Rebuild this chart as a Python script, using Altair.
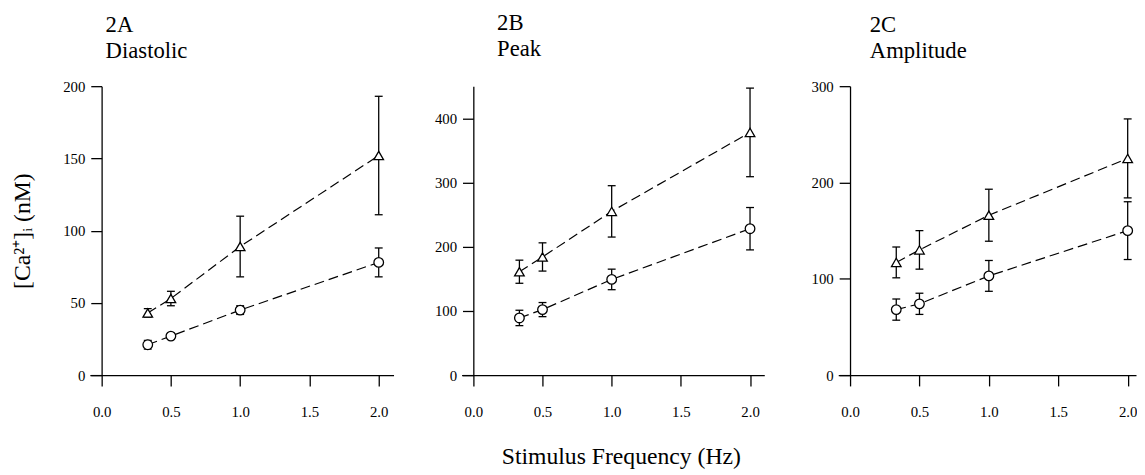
import altair as alt
import pandas as pd

freq = [0.333, 0.5, 1.0, 2.0]

# Panel 2A Diastolic
a_tri = [43, 53, 89, 152]
a_tri_err = [3, 5, 21, 41]
a_circ = [21, 27, 45, 78]
a_circ_err = [3, 1.5, 3, 10]

# Panel 2B Peak
b_tri = [161, 184, 255, 378]
b_tri_err = [18, 22, 40, 69]
b_circ = [89, 102, 149, 228]
b_circ_err = [12, 11, 16, 33]

# Panel 2C Amplitude
c_tri = [117, 130, 166, 225]
c_tri_err = [16, 20, 27, 41]
c_circ = [68, 74, 103, 150]
c_circ_err = [11, 11, 16, 30]

x_ticks = [0.0, 0.5, 1.0, 1.5, 2.0]
SERIF = "Liberation Serif"


def panel(code, name, tri, tri_err, circ, circ_err, ymax, yticks, xmax, width,
          ytitle=None, xtitle=None, title_dx=16, title_offset=18):
    rows = []
    for s, m, e in [("tri", tri, tri_err), ("circ", circ, circ_err)]:
        for f, v, er in zip(freq, m, e):
            rows.append(dict(f=f, v=v, lo=v - er, hi=v + er, s=s))
    df = pd.DataFrame(rows)
    xmin = -0.085
    yoff = -width * (0 - xmin) / (xmax - xmin)

    xaxis_kw = dict(values=x_ticks, format=".1f", labelPadding=19)
    if xtitle:
        xaxis_kw.update(title=xtitle, titleFont=SERIF, titleFontSize=24,
                        titleFontWeight="normal", titlePadding=26, titleColor="black",
                        titleX=width / 2 + 8, titleAlign="center")
    else:
        xaxis_kw.update(title=None)
    yaxis_kw = dict(values=yticks, offset=yoff, labelPadding=6)
    if ytitle:
        yaxis_kw.update(title=ytitle, titleFont=SERIF, titleFontSize=24,
                        titleFontWeight="normal", titlePadding=29, titleColor="black")
    else:
        yaxis_kw.update(title=None)

    xs = alt.Scale(domain=[xmin, xmax], nice=False, zero=False)
    ys = alt.Scale(domain=[0, ymax], nice=False, zero=False)

    def X():
        return alt.X("f:Q", scale=xs, axis=alt.Axis(**xaxis_kw))

    def Y(field):
        return alt.Y(f"{field}:Q", scale=ys, axis=alt.Axis(**yaxis_kw))

    base = alt.Chart(df)
    rule = base.mark_rule(color="black", strokeWidth=1.3).encode(
        x=X(), y=Y("lo"), y2="hi:Q")
    cap_lo = base.mark_tick(orient="horizontal", size=8, thickness=1.3,
                            color="black", opacity=1).encode(x=X(), y=Y("lo"))
    cap_hi = base.mark_tick(orient="horizontal", size=8, thickness=1.3,
                            color="black", opacity=1).encode(x=X(), y=Y("hi"))
    line = base.mark_line(color="black", strokeWidth=1.2, strokeDash=[10, 5]).encode(
        x=X(), y=Y("v"), detail="s:N")
    pts = base.mark_point(filled=True, fill="white", stroke="black", strokeWidth=1.3,
                          size=95, opacity=1).encode(
        x=X(), y=Y("v"),
        shape=alt.Shape("s:N", scale=alt.Scale(domain=["tri", "circ"],
                                               range=["triangle-up", "circle"]),
                        legend=None))
    return alt.layer(rule, cap_lo, cap_hi, line, pts).properties(
        width=width, height=293,
        title=alt.Title([code, name], anchor="start", frame="group", dx=title_dx,
                        font=SERIF, fontSize=23, fontWeight="normal", color="black",
                        lineHeight=26, offset=title_offset))


pa = panel("2A", "Diastolic", a_tri, a_tri_err, a_circ, a_circ_err,
           200, [0, 50, 100, 150, 200], 2.107, 308,
           ytitle="[Ca²⁺]ᵢ (nM)", title_dx=16, title_offset=17)
pb = panel("2B", "Peak", b_tri, b_tri_err, b_circ, b_circ_err,
           450, [0, 100, 200, 300, 400], 2.103, 307,
           xtitle="Stimulus Frequency (Hz)", title_dx=36, title_offset=26)
pc = panel("2C", "Amplitude", c_tri, c_tri_err, c_circ, c_circ_err,
           300, [0, 100, 200, 300], 2.06, 302, title_dx=32, title_offset=17)

chart = alt.hconcat(alt.hconcat(pa, pb, spacing=41), pc, spacing=47).configure_axis(
    labelFont=SERIF, labelFontSize=15, labelColor="black",
    domainColor="black", domainWidth=1.3, tickColor="black", tickWidth=1.3,
    tickSize=11, grid=False
).configure_title(font=SERIF, fontWeight="normal", color="black"
).configure_view(stroke=None).properties(
    padding={"left": 2, "top": 1, "right": 0, "bottom": 0})

chart.save("out.html", embed_options={"renderer": "svg", "actions": False})
